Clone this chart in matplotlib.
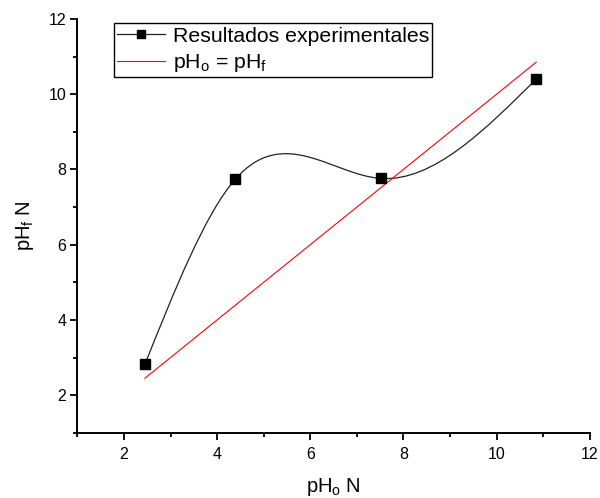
import numpy as np
import matplotlib
matplotlib.use("Agg")
import matplotlib.pyplot as plt
from matplotlib.path import Path
from matplotlib.patches import PathPatch
from matplotlib.lines import Line2D

plt.rcParams['font.family'] = ['Liberation Sans', 'DejaVu Sans']
plt.rcParams['mathtext.fontset'] = 'custom'
plt.rcParams['mathtext.rm'] = 'Liberation Sans'
plt.rcParams['mathtext.it'] = 'Liberation Sans'

# experimental points
ph_o = [2.45, 4.39, 7.52, 10.85]
ph_f = [2.82, 7.74, 7.76, 10.40]

# reference line pH_o = pH_f
ref_x = [2.45, 10.85]
ref_y = [2.45, 10.85]

x_ticks = [2, 4, 6, 8, 10, 12]
y_ticks = [2, 4, 6, 8, 10, 12]


def spline_path(x, y):
    # natural cubic spline, each piece written as an exact cubic bezier
    x = np.asarray(x, float)
    y = np.asarray(y, float)
    n = len(x)
    h = np.diff(x)
    s = np.diff(y) / h
    A = np.zeros((n, n))
    b = np.zeros(n)
    A[0, 0] = A[-1, -1] = 1
    for i in range(1, n - 1):
        A[i, i - 1] = h[i - 1]
        A[i, i] = 2 * (h[i - 1] + h[i])
        A[i, i + 1] = h[i]
        b[i] = 6 * (s[i] - s[i - 1])
    M = np.linalg.solve(A, b)
    verts = [(x[0], y[0])]
    codes = [Path.MOVETO]
    for i in range(n - 1):
        d0 = s[i] - h[i] * (2 * M[i] + M[i + 1]) / 6
        d1 = s[i] + h[i] * (M[i] + 2 * M[i + 1]) / 6
        verts += [(x[i] + h[i] / 3, y[i] + d0 * h[i] / 3),
                  (x[i + 1] - h[i] / 3, y[i + 1] - d1 * h[i] / 3),
                  (x[i + 1], y[i + 1])]
        codes += [Path.CURVE4] * 3
    return Path(verts, codes)


fig = plt.figure(figsize=(6, 4.98), dpi=100)
ax = fig.add_axes([0.129, 0.131, 0.854, 0.831])

ax.plot(ref_x, ref_y, color='red', lw=0.8)
ax.add_patch(PathPatch(spline_path(ph_o, ph_f), fill=False,
                       edgecolor='#222222', lw=0.9))
ax.plot(ph_o, ph_f, ls='none', marker='s', ms=6.5, color='black')

ax.set_xlim(1, 12)
ax.set_ylim(1, 12)
ax.set_xticks(x_ticks)
ax.set_yticks(y_ticks)
ax.set_xticks(np.arange(1, 12, 2), minor=True)
ax.set_yticks(np.arange(1, 12, 2), minor=True)
ax.tick_params(which='major', direction='out', length=5, width=1.3, labelsize=11.5)
ax.tick_params(axis='x', which='major', pad=5)
ax.tick_params(axis='y', which='major', pad=3)
ax.tick_params(which='minor', direction='out', length=3, width=1.3)
for side in ['top', 'right']:
    ax.spines[side].set_visible(False)
for side in ['left', 'bottom']:
    ax.spines[side].set_linewidth(1.4)

ax.set_xlabel(r'pH$_\mathrm{o}$ N', fontsize=14.5, labelpad=10)
ax.set_ylabel(r'pH$_\mathrm{f}$ N', fontsize=14.5, labelpad=9)

handles = [
    Line2D([], [], color='#222222', lw=0.9, marker='s', ms=5.5, mfc='black', mec='black'),
    Line2D([], [], color='red', lw=0.8),
]
labels = ['Resultados experimentales', r'pH$_\mathrm{o}$ = pH$_\mathrm{f}$']
leg = ax.legend(handles, labels, loc='upper left', bbox_to_anchor=(0.071, 0.989),
                borderaxespad=0, fontsize=15.3, fancybox=False, framealpha=1,
                edgecolor='black', handlelength=2.25, handletextpad=0.38,
                labelspacing=0.3, borderpad=0.15)
leg.get_frame().set_linewidth(1.0)

fig.savefig('out.png', dpi=100)
